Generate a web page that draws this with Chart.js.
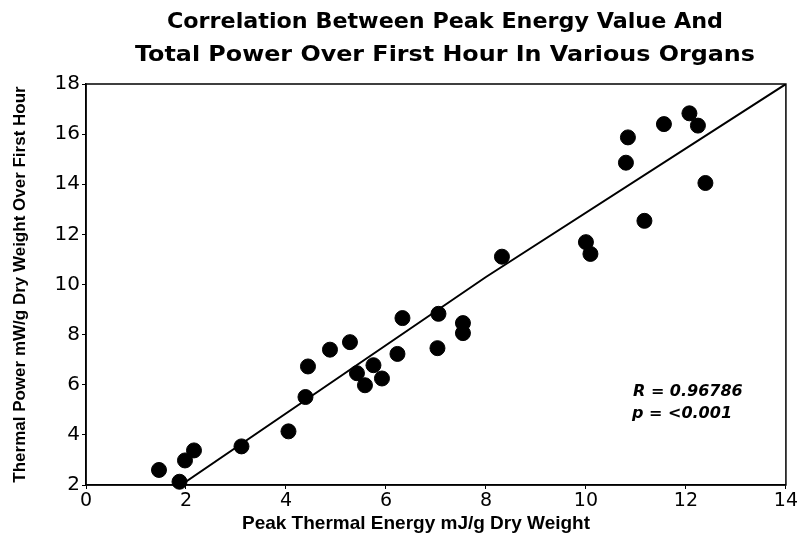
<!DOCTYPE html>
<html>
<head>
<meta charset="utf-8">
<script src="https://cdn.jsdelivr.net/npm/chart.js@4/dist/chart.umd.min.js"></script>
<style>
  html, body { margin: 0; padding: 0; background: #fff; }
  canvas { display: block; }
</style>
</head>
<body>
<canvas id="chart" width="799" height="560"></canvas>
<script>
// Peak thermal energy (mJ/g) vs thermal power over first hour (mW/g)
const energyX = [1.46, 1.87, 1.98, 2.16, 3.11, 4.05, 4.39, 4.44, 4.88, 5.28,
                 5.42, 5.58, 5.75, 5.92, 6.23, 6.33, 7.03, 7.05, 7.54, 7.54,
                 8.32, 10.0, 10.09, 10.8, 10.84, 11.17, 11.56, 12.07, 12.24, 12.39];
const powerY = [2.60, 2.13, 2.98, 3.38, 3.54, 4.14, 5.51, 6.73, 7.40, 7.70,
                6.46, 5.98, 6.78, 6.25, 7.23, 8.66, 7.46, 8.83, 8.46, 8.06,
                11.11, 11.69, 11.22, 14.86, 15.87, 12.54, 16.40, 16.83, 16.34, 14.05];

// fitted line
const fitX = [1.9, 8.0, 14];
const fitY = [2.0, 10.3, 18.0];

const titleLines = ['Correlation Between Peak Energy Value And',
                    'Total Power Over First Hour In Various Organs'];
const xTitle = 'Peak Thermal Energy mJ/g Dry Weight';
const yTitle = 'Thermal Power mW/g Dry Weight Over First Hour';
const statLines = ['R = 0.96786', 'p = <0.001'];

const points = energyX.map((x, i) => ({ x, y: powerY[i] }));
const fitLine = fitX.map((x, i) => ({ x, y: fitY[i] }));

// draw text centred at cx, stretched to a given width (original font is wider)
function wideText(ctx, txt, cx, cy, w) {
    const k = w / ctx.measureText(txt).width;
    ctx.save();
    ctx.translate(cx, cy);
    ctx.scale(k, 1);
    ctx.fillText(txt, 0, 0);
    ctx.restore();
}

/* frame around plot + titles + stats text */
const decor = {
    id: 'decor',
    afterDraw(chart) {
        const { ctx, chartArea: a } = chart;
        ctx.save();
        ctx.strokeStyle = '#000';
        ctx.lineWidth = 1.5;
        ctx.strokeRect(a.left, a.top, a.right - a.left, a.bottom - a.top);

        ctx.fillStyle = '#000';
        ctx.textAlign = 'center';
        ctx.textBaseline = 'middle';
        ctx.font = 'bold 21px "DejaVu Sans"';
        wideText(ctx, titleLines[0], 445, 23, 556);
        wideText(ctx, titleLines[1], 445, 56, 620);

        // x title sits a bit left of the plot centre in the original
        ctx.font = 'bold 19px "Liberation Sans"';
        ctx.fillText(xTitle, 416, 524);

        ctx.textAlign = 'left';
        ctx.font = 'italic bold 16px "DejaVu Sans"';
        ctx.fillText(statLines[0], 633, 392);
        ctx.fillText(statLines[1], 632, 414);
        ctx.restore();
    }
};

new Chart(document.getElementById('chart'), {
    type: 'scatter',
    data: {
        datasets: [{
            data: points,
            backgroundColor: '#000',
            borderColor: '#000',
            pointRadius: 7.5,
            pointHoverRadius: 7.5,
            clip: false
        }, {
            type: 'line',
            data: fitLine,
            borderColor: '#000',
            borderWidth: 2,
            pointRadius: 0,
            fill: false,
            tension: 0
        }]
    },
    options: {
        responsive: false,
        animation: false,
        layout: { padding: { top: 84, right: 11, left: 0, bottom: 0 } },
        plugins: { legend: { display: false }, tooltip: { enabled: false } },
        scales: {
            x: {
                type: 'linear',
                min: 0, max: 14,
                afterFit(s) { s.height = 75; },
                ticks: { stepSize: 2, color: '#000', padding: 1,
                         font: { family: 'DejaVu Sans', size: 19 } },
                grid: { drawOnChartArea: false, tickLength: 4, color: '#000' },
                border: { color: '#000', width: 1.5 }
            },
            y: {
                min: 2, max: 18,
                afterFit(s) { s.width = 86; },
                ticks: { stepSize: 2, color: '#000', padding: 2,
                         font: { family: 'DejaVu Sans', size: 20 } },
                grid: { drawOnChartArea: false, tickLength: 4, color: '#000' },
                border: { color: '#000', width: 1.5 },
                title: {
                    display: true,
                    text: yTitle,
                    color: '#000',
                    font: { family: 'Liberation Sans', size: 17, weight: 'bold' },
                    padding: { top: 10, bottom: 0 }
                }
            }
        }
    },
    plugins: [decor]
});
</script>
</body>
</html>
